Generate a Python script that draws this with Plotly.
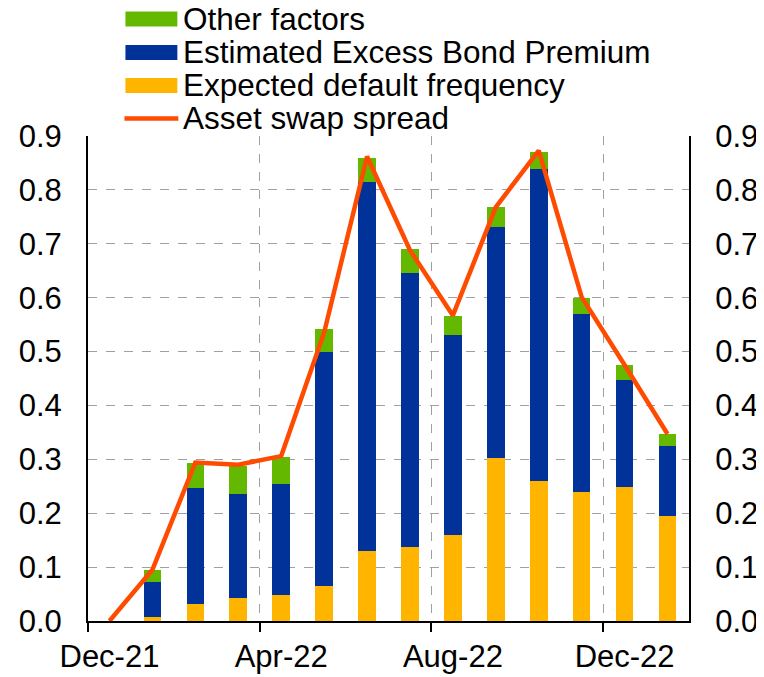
import plotly.graph_objects as go

months = ["Dec-21", "Jan-22", "Feb-22", "Mar-22", "Apr-22", "May-22", "Jun-22",
          "Jul-22", "Aug-22", "Sep-22", "Oct-22", "Nov-22", "Dec-22", "Jan-23"]
edf = [None, 0.007, 0.032, 0.043, 0.048, 0.065, 0.129, 0.138, 0.160, 0.303, 0.259, 0.240, 0.249, 0.194]
ebp = [None, 0.065, 0.214, 0.193, 0.206, 0.435, 0.685, 0.508, 0.371, 0.429, 0.579, 0.329, 0.198, 0.131]
other = [None, 0.023, 0.047, 0.052, 0.050, 0.041, 0.045, 0.044, 0.035, 0.037, 0.033, 0.030, 0.028, 0.022]
asw = [0.0, 0.095, 0.294, 0.290, 0.306, 0.535, 0.862, 0.688, 0.567, 0.768, 0.873, 0.601, 0.475, 0.347]

x = list(range(len(months)))
font = "Liberation Sans, Arial, sans-serif"
colors = {"other": "#65B800", "ebp": "#003299", "edf": "#FFB400", "asw": "#FF4B00"}

fig = go.Figure()
fig.add_trace(go.Bar(x=x, y=edf, name="Expected default frequency", marker_color=colors["edf"],
                     marker_line_width=0, width=0.41))
fig.add_trace(go.Bar(x=x, y=ebp, name="Estimated Excess Bond Premium", marker_color=colors["ebp"],
                     marker_line_width=0, width=0.41))
fig.add_trace(go.Bar(x=x, y=other, name="Other factors", marker_color=colors["other"],
                     marker_line_width=0, width=0.41))
fig.add_trace(go.Scatter(x=x, y=asw, name="Asset swap spread", mode="lines",
                         line=dict(color=colors["asw"], width=4.5), yaxis="y2"))

# page has an 8px body margin, so the figure is a bit smaller than the window
OFF = 8
L, T, W, H = 87.5 - OFF, 136 - OFF, 602, 485
def px(xp): return (xp - OFF - L) / W
def py(yp): return (T + H - (yp - OFF)) / H

# legend drawn by hand (plotly legend rows are too far apart); positions in page pixels
legend_rows = [("Other factors", "other", 19), ("Estimated Excess Bond Premium", "ebp", 52.5),
               ("Expected default frequency", "edf", 85.5), ("Asset swap spread", "asw", 118.5)]
for label, key, yc in legend_rows:
    if key == "asw":
        fig.add_shape(type="line", xref="paper", yref="paper", x0=px(124), x1=px(178),
                      y0=py(yc), y1=py(yc), line=dict(color=colors[key], width=4.5))
    else:
        fig.add_shape(type="rect", xref="paper", yref="paper", x0=px(125), x1=px(177),
                      y0=py(yc - 7.5), y1=py(yc + 7.5), line_width=0, fillcolor=colors[key])
    fig.add_annotation(text=label, xref="paper", yref="paper", x=px(181), y=py(yc),
                       xanchor="left", yanchor="middle", showarrow=False,
                       font=dict(size=31.5, family=font, color="black"))

grid = dict(gridcolor="#a0a0a0", griddash="dash", gridwidth=1)
fig.update_layout(
    barmode="stack",
    width=756, height=669,
    margin=dict(l=L, r=756 - L - W, t=T, b=669 - T - H),
    plot_bgcolor="white", paper_bgcolor="white",
    font=dict(family=font, size=31, color="black"),
    showlegend=False,
    xaxis=dict(range=[-0.5, 13.5], tickmode="array", tickvals=[0, 4, 8, 12],
               ticktext=[months[i] for i in [0, 4, 8, 12]], ticks="", showgrid=False,
               showline=True, linecolor="black", linewidth=2, zeroline=False,
               ticklabelstandoff=7, automargin=False,
               minor=dict(tickmode="array", tickvals=[-0.5, 3.5, 7.5, 11.5], ticks="outside",
                          ticklen=9, tickwidth=2, tickcolor="black", showgrid=True, **grid)),
    yaxis=dict(range=[0, 0.9], dtick=0.1, tickformat=".1f", showline=True, linecolor="black",
               linewidth=2, zeroline=False, ticks="", showgrid=True, ticklabelstandoff=18,
               automargin=False, **grid),
    yaxis2=dict(range=[0, 0.9], dtick=0.1, tickformat=".1f", overlaying="y", side="right",
                showline=True, linecolor="black", linewidth=2, showgrid=False, zeroline=False,
                ticks="", ticklabelstandoff=18, automargin=False),
)

fig.write_html("out.html")
